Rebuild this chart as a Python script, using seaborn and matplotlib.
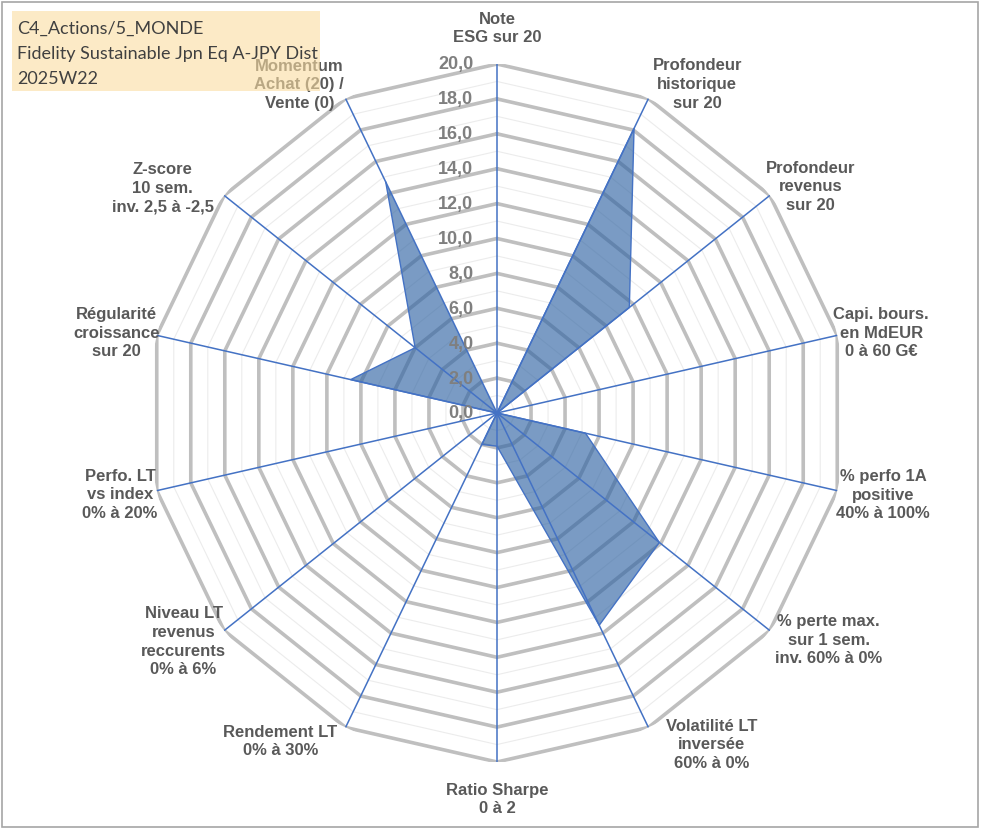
import numpy as np
import pandas as pd
import matplotlib.pyplot as plt
from matplotlib.patches import Rectangle
import seaborn as sns

# Data
axis_labels = [
    'Note\nESG sur 20',
    'Profondeur\nhistorique\nsur 20',
    'Profondeur\nrevenus\nsur 20',
    'Capi. bours.\nen MdEUR\n0 à 60 G€',
    '% perfo 1A\npositive\n40% à 100%',
    '% perte max.\nsur 1 sem.\ninv. 60% à 0%',
    'Volatilité LT\ninversée\n60% à 0%',
    'Ratio Sharpe\n0 à 2',
    'Rendement LT\n0% à 30%',
    'Niveau LT\nrevenus\nreccurents\n0% à 6%',
    'Perfo. LT\nvs index\n0% à 20%',
    'Régularité\ncroissance\nsur 20',
    'Z-score\n10 sem.\ninv. 2,5 à -2,5',
    'Momentum\nAchat (20) /\nVente (0)',
]
scores = [0.0, 18.1, 9.7, 0.0, 5.2, 11.9, 13.5, 1.9, 2.0, 0.0, 0.0, 8.6, 6.0, 14.7]
grid_levels = list(range(0, 21))
tick_values = list(range(0, 21, 2))
title_lines = ['C4_Actions/5_MONDE', 'Fidelity Sustainable Jpn Eq A-JPY Dist', '2025W22']

# label placement (angle in degrees, radius in data units)
label_angles = [0, 31.3, 54.1, 78.1, 101.9, 124.3, 147, 180, 213.5, 234, 257.9, 282, 304, 329]
label_radius = [22.1, 22.1, 22.2, 22.5, 22.6, 23.0, 22.6, 22.1, 22.5, 22.2, 22.1, 22.3, 23.1, 22.0]

sns.set_style('white')
plt.rcParams['font.family'] = ['Liberation Sans', 'DejaVu Sans']

W, H = 991, 829
cx, cy, R = 497, 414, 349
fig = plt.figure(figsize=(W / 100, H / 100), dpi=100)
ax = fig.add_axes([(cx - R) / W, (H - cy - R) / H, 2 * R / W, 2 * R / H], projection='polar')
ax.set_theta_zero_location('N')
ax.set_theta_direction(-1)
ax.set_ylim(0, 20)
ax.set_axis_off()

n = len(axis_labels)
theta = np.linspace(0, 2 * np.pi, n, endpoint=False)
theta_c = np.append(theta, theta[0])

# polygon grid
for lev in grid_levels[1:]:
    if lev % 2 == 0:
        ax.plot(theta_c, [lev] * (n + 1), color='#BFBFBF', lw=2.6, zorder=1)
    else:
        ax.plot(theta_c, [lev] * (n + 1), color='#ECECEC', lw=0.8, zorder=1)

# filled series
df = pd.DataFrame({'theta': theta_c, 'score': scores + [scores[0]]})
ax.fill(df['theta'], df['score'], color='#2F63A3', alpha=0.64, lw=0, zorder=2)
sns.lineplot(data=df, x='theta', y='score', sort=False, ax=ax, color='#4472C4', lw=1, zorder=3)
ax.set_axis_off()

# spokes
for t in theta:
    ax.plot([t, t], [0, 20], color='#4472C4', lw=1.1, zorder=4)

# radial tick labels
for v in tick_values:
    ax.annotate(f'{v},0', xy=(0, v), xytext=(-17, 0), textcoords='offset points',
                ha='right', va='center', fontsize=13, fontweight='bold', color='#7F7F7F', zorder=5)

# category labels
for lab, a, r in zip(axis_labels, label_angles, label_radius):
    ax.text(np.deg2rad(a), r, lab, ha='center', va='center', fontsize=12, fontweight='bold',
            color='#595959', linespacing=1.3, clip_on=False, zorder=5)

# title box
fig.add_artist(Rectangle((12 / W, 1 - 92 / H), 308 / W, 80 / H, transform=fig.transFigure,
                         facecolor='#FADCA0', alpha=0.6, edgecolor='none', zorder=10))
for i, line in enumerate(title_lines):
    fig.text(17 / W, 1 - (34 + 25 * i) / H, line, ha='left', va='baseline', fontsize=13,
             color='#404040', family=['Lato', 'DejaVu Sans'], zorder=11)

# outer frame
fig.add_artist(Rectangle((2 / W, 1.5 / H), 976 / W, 825 / H, transform=fig.transFigure,
                         facecolor='none', edgecolor='#A6A6A6', lw=1.2, zorder=12))

fig.savefig('out.png', dpi=100)
